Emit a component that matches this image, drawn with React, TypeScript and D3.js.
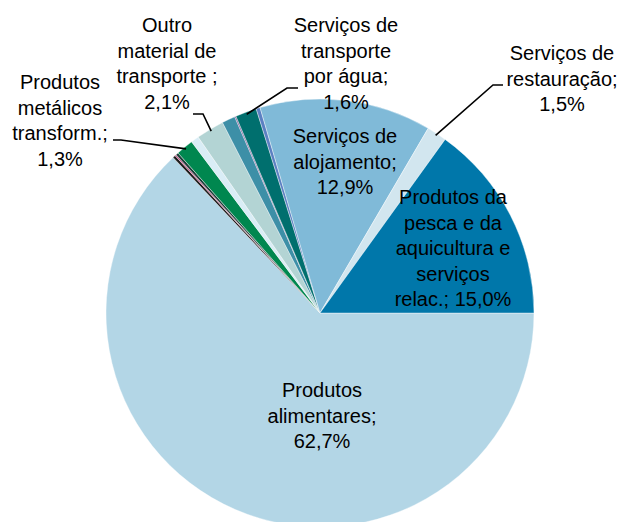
import React, { useEffect, useRef } from "react";
import * as d3 from "d3";

// slices in clockwise order, starting at 3 o'clock
const categories = [
  "Produtos alimentares",
  "Outros 1",
  "Outros 2",
  "Outros 3",
  "Produtos metálicos transform.",
  "Outros 4",
  "Outro material de transporte",
  "Outros 5",
  "Outros 6",
  "Serviços de transporte por água",
  "Outros 7",
  "Serviços de alojamento",
  "Serviços de restauração",
  "Produtos da pesca e da aquicultura e serviços relac.",
];
const values = [62.7, 0.2, 0.1, 0.2, 1.3, 0.6, 2.1, 1.0, 0.1, 1.6, 0.3, 12.9, 1.5, 15.0];
const colors = [
  "#b3d6e6",
  "#1c1c1c",
  "#c2407a",
  "#1e3f3a",
  "#00874f",
  "#d9edf6",
  "#b3d4d4",
  "#3d8fa7",
  "#7a5a9a",
  "#006f6e",
  "#5b80c2",
  "#80bad8",
  "#d2e6ef",
  "#0077aa",
];

// label text, one entry per labelled slice
const labelLines: Record<number, string[]> = {
  0: ["Produtos", "alimentares;", "62,7%"],
  4: ["Produtos", "metálicos", "transform.;", "1,3%"],
  6: ["Outro", "material de", "transporte ;", "2,1%"],
  9: ["Serviços de", "transporte", "por água;", "1,6%"],
  11: ["Serviços de", "alojamento;", "12,9%"],
  12: ["Serviços de", "restauração;", "1,5%"],
  13: ["Produtos da", "pesca e da", "aquicultura e", "serviços", "relac.; 15,0%"],
};

// label placement: x, first line centre y, optional leader elbow
const labelLayout: Record<number, { x: number; y: number; leader?: [number, number][] }> = {
  0: { x: 322, y: 390 },
  4: { x: 60, y: 82, leader: [[113, 140], [121, 140]] },
  6: { x: 167, y: 25, leader: [[193, 114], [203, 114]] },
  9: { x: 346, y: 25, leader: [[298, 88], [287, 88]] },
  11: { x: 345, y: 136 },
  12: { x: 562, y: 53, leader: [[503, 85], [493, 85]] },
  13: { x: 453, y: 197 },
};

const App = () => {
  const svgRef = useRef<SVGSVGElement>(null);

  useEffect(() => {
    document.body.style.margin = "0";
    const width = 619;
    const height = 522;
    const cx = 320;
    const cy = 313;
    const radius = 214;
    const lineHeight = 25.6;

    const svg = d3.select(svgRef.current);
    svg.selectAll("*").remove();
    svg.attr("width", width).attr("height", height);

    const pie = d3
      .pie<number>()
      .sort(null)
      .value((d) => d)
      .startAngle(Math.PI / 2)
      .endAngle(Math.PI / 2 + 2 * Math.PI);

    const arcs = pie(values);
    const arc = d3.arc<d3.PieArcDatum<number>>().innerRadius(0).outerRadius(radius);

    const g = svg.append("g").attr("transform", `translate(${cx},${cy})`);

    g.selectAll("path")
      .data(arcs)
      .join("path")
      .attr("d", arc)
      .attr("fill", (d, i) => colors[i])
      .attr("stroke", "#ffffff")
      .attr("stroke-width", 0.4);

    // leader lines
    Object.keys(labelLayout).forEach((k) => {
      const i = +k;
      const lay = labelLayout[i];
      if (!lay.leader) return;
      const a = (arcs[i].startAngle + arcs[i].endAngle) / 2;
      const end: [number, number] = [
        cx + radius * 0.99 * Math.sin(a),
        cy - radius * 0.99 * Math.cos(a),
      ];
      svg
        .append("path")
        .attr("d", d3.line()([...lay.leader, end]))
        .attr("fill", "none")
        .attr("stroke", "#000")
        .attr("stroke-width", 1.6);
    });

    // labels
    Object.keys(labelLines).forEach((k) => {
      const i = +k;
      const lay = labelLayout[i];
      const text = svg
        .append("text")
        .attr("text-anchor", "middle")
        .attr("font-family", "'Liberation Sans', Arial, sans-serif")
        .attr("font-size", 20)
        .attr("fill", "#000");
      labelLines[i].forEach((line, j) => {
        text
          .append("tspan")
          .attr("x", lay.x)
          .attr("y", lay.y + j * lineHeight)
          .attr("dy", "0.35em")
          .text(line);
      });
    });
  }, []);

  return <svg ref={svgRef} style={{ display: "block" }}></svg>;
};

export default App;
